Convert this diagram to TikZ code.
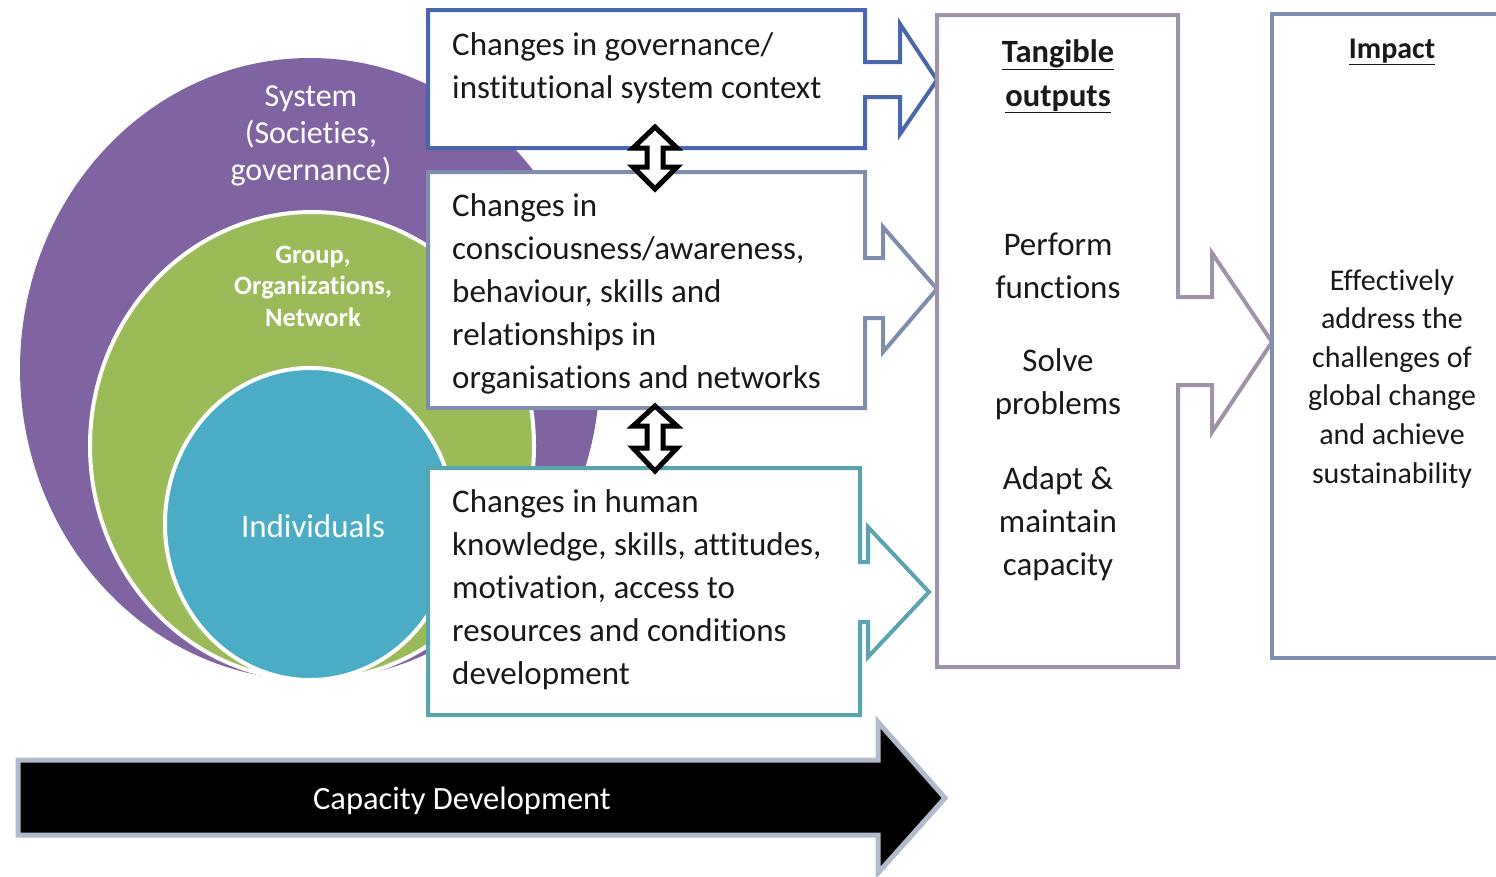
\documentclass[tikz,border=0pt]{standalone}
\usepackage{fontspec}
\setmainfont{Carlito}[RawFeature={-liga;-clig;-calt;-dlig}]
\usetikzlibrary{positioning}

\definecolor{sysviolet}{HTML}{8064A2}
\definecolor{grpgreen}{HTML}{9BBB59}
\definecolor{indblue}{HTML}{4BACC6}
\definecolor{govblue}{HTML}{4A67AE}
\definecolor{orgslate}{HTML}{7F8EAD}
\definecolor{humteal}{HTML}{5AA4AF}
\definecolor{outmauve}{HTML}{A093A9}
\definecolor{impslate}{HTML}{7E8EAE}
\definecolor{cdedge}{HTML}{B2BACD}

% multi-line nodes: anchor base sits on the last line
\tikzset{
  boxtext/.style={anchor=base west, align=left, inner sep=0pt, text=black!90,
    font=\fontsize{33}{43}\selectfont},
  midtext/.style={anchor=base, align=center, inner sep=0pt, text=black!90,
    font=\fontsize{33}{43}\selectfont},
  ringtext/.style={anchor=base, align=center, inner sep=0pt, text=white},
  callout/.style={draw=#1, line width=4pt, fill=white}
}

\begin{document}
\begin{tikzpicture}[x=1pt, y=-1pt]
\useasboundingbox (0,0) rectangle (1496,876);

% nested circles
\fill[sysviolet] (310,369) ellipse [x radius=290, y radius=311];
\draw[white, line width=4pt, fill=grpgreen] (312,446) ellipse [x radius=222, y radius=234];
\draw[white, line width=4pt, fill=indblue] (310,524) ellipse [x radius=145, y radius=156];

\node[ringtext, font=\fontsize{32}{37}\selectfont] (system) at (311,180)
  {System\\(Societies,\\governance)};
\node[ringtext, font=\bfseries\fontsize{26.5}{31.5}\selectfont] (group) at (313,326)
  {Group,\\Organizations,\\Network};
\node[ringtext, anchor=center, font=\fontsize{33}{38}\selectfont] (indiv) at (313,526)
  {Individuals};

% callout boxes
\draw[callout=govblue] (428,10) -- (865,10) -- (865,62) -- (900,62) -- (900,24)
  -- (937,80) -- (900,134) -- (900,97) -- (865,97) -- (865,148) -- (428,148) -- cycle;
\draw[callout=orgslate] (428,172) -- (865,172) -- (865,258) -- (883,258) -- (883,227)
  -- (937,289) -- (883,352) -- (883,318) -- (865,318) -- (865,408) -- (428,408) -- cycle;
\draw[callout=humteal] (428,468) -- (860,468) -- (860,562) -- (868,562) -- (868,527)
  -- (929,592) -- (868,657) -- (868,622) -- (860,622) -- (860,715) -- (428,715) -- cycle;
\draw[callout=outmauve] (937,15) -- (1178,15) -- (1178,297) -- (1212,297) -- (1212,253)
  -- (1272,342) -- (1212,432) -- (1212,385) -- (1178,385) -- (1178,667) -- (937,667) -- cycle;
\draw[callout=impslate] (1510,14) -- (1272,14) -- (1272,658) -- (1510,658);

% double arrows between the boxes
\foreach \t/\m/\n/\b in {127/148/167/189, 406/426/448/471} {
  \draw[line width=5pt, fill=white] (655,\t) -- (677,\m) -- (663,\m) -- (663,\n) -- (677,\n)
    -- (655,\b) -- (633,\n) -- (647,\n) -- (647,\m) -- (633,\m) -- cycle;
}

\node[boxtext] (gov) at (452,98)
  {Changes in governance/\\institutional system context};
\node[boxtext] (org) at (452,388)
  {Changes in\\consciousness/awareness,\\behaviour, skills and\\relationships in\\organisations and networks};
\node[boxtext] (hum) at (452,684)
  {Changes in human\\knowledge, skills, attitudes,\\motivation, access to\\resources and conditions\\development};

\node[midtext, font=\bfseries\fontsize{32.5}{44}\selectfont] (tangible) at (1058,106)
  {\underline{Tangible}\\\underline{outputs}};
\node[midtext] (perform) at (1058,298) {Perform\\functions};
\node[midtext] (solve) at (1058,414) {Solve\\problems};
\node[midtext] (adapt) at (1058,575) {Adapt \&\\maintain\\capacity};

\node[midtext, font=\bfseries\fontsize{30}{38}\selectfont] (impact) at (1392,58)
  {\underline{Impact}};
\node[midtext, font=\fontsize{30}{38.6}\selectfont] (effect) at (1392,483)
  {Effectively\\address the\\challenges of\\global change\\and achieve\\sustainability};

% capacity development arrow
\draw[cdedge, line width=5pt, fill=black] (18,760) -- (878,760) -- (878,722) -- (945,798)
  -- (878,873) -- (878,835) -- (18,835) -- cycle;
\node[ringtext, anchor=center, font=\fontsize{32.5}{37}\selectfont] (capdev) at (462,801)
  {Capacity Development};
\end{tikzpicture}
\end{document}
